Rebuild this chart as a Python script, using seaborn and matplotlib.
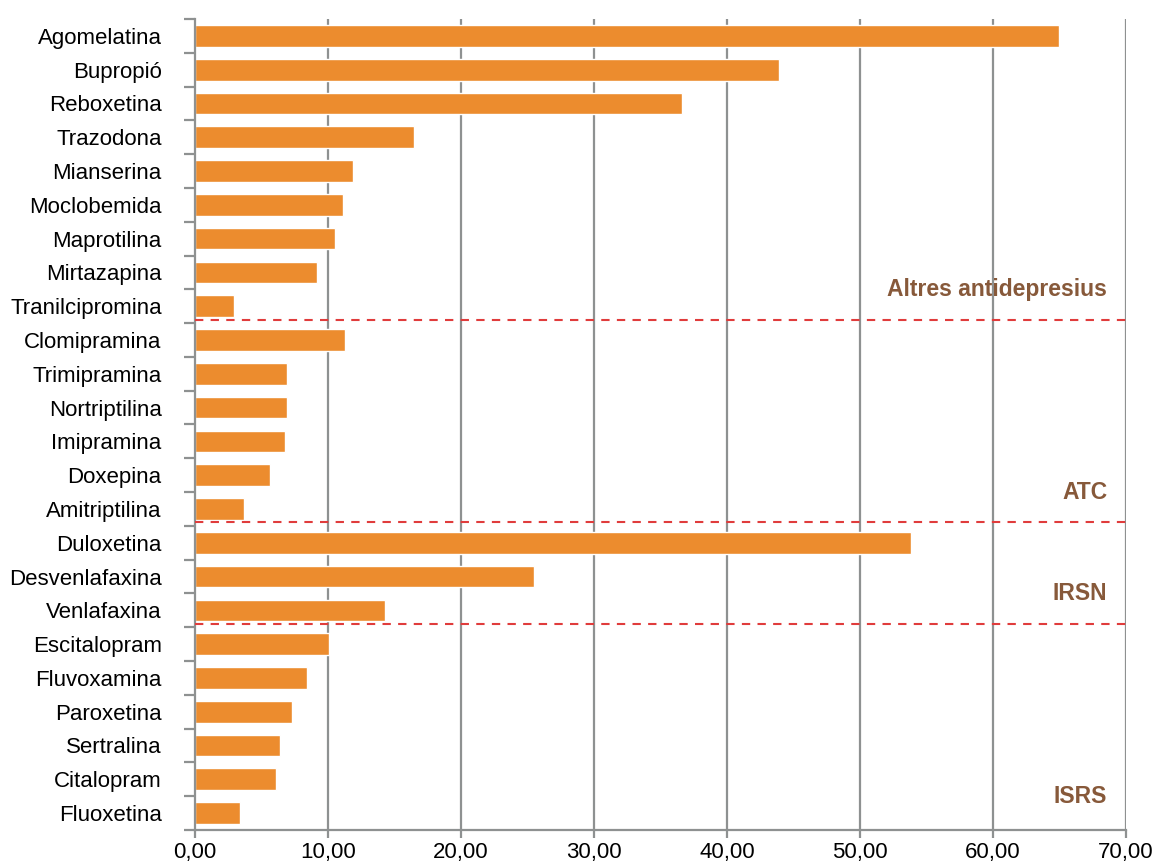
import numpy as np
import pandas as pd
import matplotlib
matplotlib.use('Agg')
import matplotlib.pyplot as plt
import seaborn as sns

# fàrmacs (de dalt a baix) i valors
farmacs = ['Agomelatina', 'Bupropió', 'Reboxetina', 'Trazodona', 'Mianserina',
           'Moclobemida', 'Maprotilina', 'Mirtazapina', 'Tranilcipromina',
           'Clomipramina', 'Trimipramina', 'Nortriptilina', 'Imipramina',
           'Doxepina', 'Amitriptilina',
           'Duloxetina', 'Desvenlafaxina', 'Venlafaxina',
           'Escitalopram', 'Fluvoxamina', 'Paroxetina', 'Sertralina',
           'Citalopram', 'Fluoxetina']
valors = [65.0, 43.9, 36.6, 16.5, 11.9,
          11.1, 10.5, 9.2, 2.9,
          11.3, 6.9, 6.9, 6.8,
          5.6, 3.7,
          53.8, 25.5, 14.3,
          10.1, 8.4, 7.3, 6.4,
          6.1, 3.4]
grups = ['Altres antidepresius', 'ATC', 'IRSN', 'ISRS']
# últim índex de cada grup (per a les línies discontínues)
limits = [8, 14, 17]
pos_etiqueta = [8, 14, 17, 23]

df = pd.DataFrame({'farmac': farmacs, 'valor': valors})

sns.set_style('white')
plt.rcParams['font.family'] = ['Liberation Sans', 'DejaVu Sans']

fig = plt.figure(figsize=(11.54, 8.64), dpi=100)
ax = fig.add_axes([0.169, 0.0394, 0.8067, 0.9386])

gris = '#8E9191'
ax.set_axisbelow(True)
for xv in range(10, 71, 10):
    ax.axvline(xv, color=gris, lw=1.6, zorder=0)

sns.barplot(data=df, x='valor', y='farmac', orient='h', color='#EC8C2E',
            saturation=1, width=0.64, ax=ax, zorder=2)

n = len(farmacs)
ax.set_xlim(0, 70)
ax.set_ylim(n - 0.5, -0.5)
ax.set_xlabel('')
ax.set_ylabel('')

for lim in limits:
    ax.plot([0, 70], [lim + 0.4, lim + 0.4], color='#E03C3C', lw=1.5,
            ls=(0, (4, 3.5)), zorder=3, clip_on=False)

for g, p in zip(grups, pos_etiqueta):
    ax.text(68.6, p - 0.5, g, ha='right', va='center', fontsize=16.5,
            fontweight='bold', color='#87593A')

ax.set_xticks(range(0, 71, 10))
ax.set_xticklabels([f'{v},00' for v in range(0, 71, 10)], fontsize=16,
                   color='black')
ax.set_yticks(range(n))
ax.set_yticklabels(farmacs, fontsize=16, color='black')
ax.tick_params(axis='y', which='major', length=0, pad=24)
ax.set_yticks(np.arange(-0.5, n, 1), minor=True)
ax.tick_params(axis='y', which='minor', length=8, width=1.6, color=gris, left=True)
ax.tick_params(axis='x', length=6, width=1.6, color=gris, bottom=True, pad=3)

for s in ['top', 'right']:
    ax.spines[s].set_visible(False)
for s in ['left', 'bottom']:
    ax.spines[s].set_color(gris)
    ax.spines[s].set_linewidth(1.6)

fig.savefig('out.png', dpi=100)
